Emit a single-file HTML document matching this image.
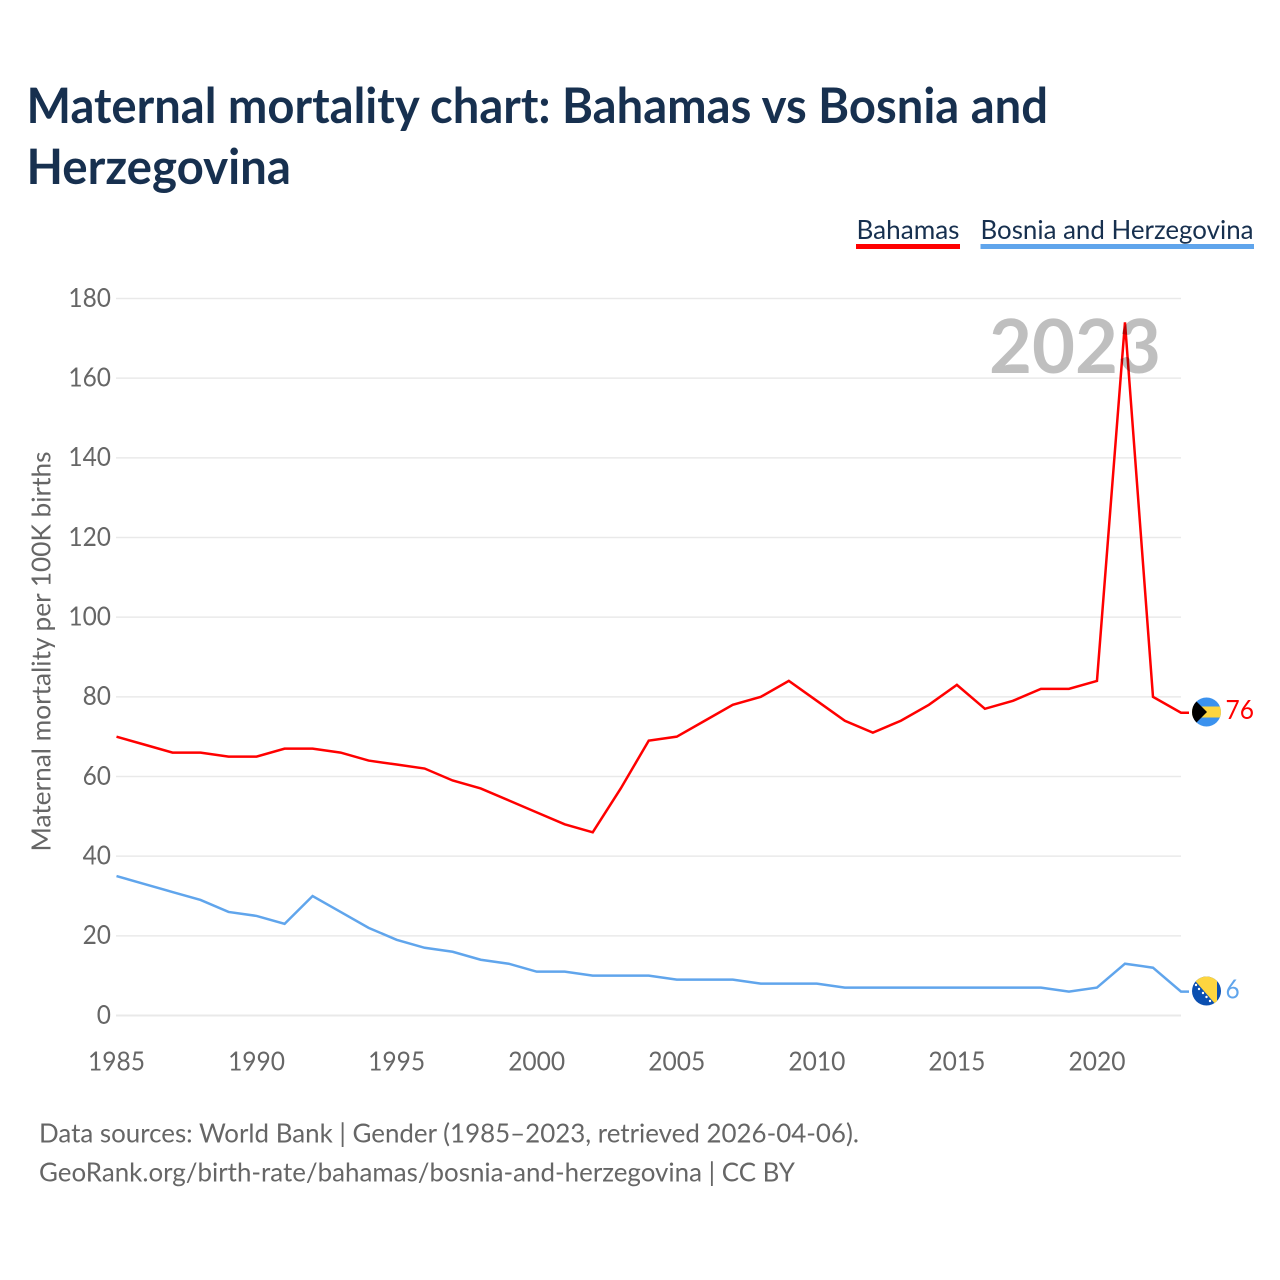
<!DOCTYPE html>
<html lang="en">
<head>
<meta charset="utf-8">
<title>Maternal mortality chart: Bahamas vs Bosnia and Herzegovina</title>
<style>
  html, body { margin: 0; padding: 0; background: #fff; }
  svg { display: block; font-family: "Lato", "Carlito", "Liberation Sans", sans-serif; }
</style>
</head>
<body>
<svg id="chart" xmlns="http://www.w3.org/2000/svg" width="1280" height="1280" viewBox="0 0 1280 1280">
  <defs>
    <clipPath id="clip-bs"><circle cx="1206.5" cy="712" r="14.5"/></clipPath>
    <clipPath id="clip-ba"><circle cx="1206.5" cy="991" r="14.5"/></clipPath>
  </defs>
  <rect width="1280" height="1280" fill="#ffffff"/>
  <text x="26.5" y="123" font-size="49" font-weight="700" fill="#17304f" textLength="1021.5" lengthAdjust="spacingAndGlyphs">Maternal mortality chart: Bahamas vs Bosnia and</text>
  <text x="26.5" y="184" font-size="49" font-weight="700" fill="#17304f" textLength="264.5" lengthAdjust="spacingAndGlyphs">Herzegovina</text>

  <g>
    <text x="856.5" y="239" font-size="26.5" fill="#17304f" textLength="103" lengthAdjust="spacingAndGlyphs">Bahamas</text>
    <rect x="856" y="244" width="104" height="5" fill="#ff0000"/>
  </g>
  <g>
    <text x="980.5" y="239" font-size="26.5" fill="#17304f" textLength="273" lengthAdjust="spacingAndGlyphs">Bosnia and Herzegovina</text>
    <rect x="980.5" y="244" width="273.5" height="5" fill="#60a5ec"/>
  </g>

  <g id="grid"></g>
  <g id="yticks"></g>
  <g id="xticks"></g>
  <text transform="translate(50.5,651.5) rotate(-90)" text-anchor="middle" font-size="26" fill="#666666" textLength="400" lengthAdjust="spacingAndGlyphs">Maternal mortality per 100K births</text>

  <g id="series"></g>

  <text x="989" y="373" font-size="75" font-weight="700" fill="rgba(0,0,0,0.25)" textLength="172" lengthAdjust="spacingAndGlyphs">2023</text>

  <g clip-path="url(#clip-bs)">
    <rect x="1190" y="696" width="34" height="32" fill="#3b92ee"/>
    <rect x="1190" y="706.5" width="34" height="11" fill="#fdd53f"/>
    <polygon points="1190,695 1207,712 1190,729" fill="#000000"/>
  </g>
  <g clip-path="url(#clip-ba)">
    <rect x="1190" y="975" width="34" height="32" fill="#0b4fb0"/>
    <polygon points="1190,975 1217,975 1217,1006" fill="#fdd53f"/>
    <g fill="#ffffff">
      <circle cx="1196" cy="985" r="1.2"/>
      <circle cx="1199" cy="989" r="1.2"/>
      <circle cx="1203" cy="993" r="1.2"/>
      <circle cx="1206.5" cy="997" r="1.2"/>
      <circle cx="1210" cy="1001" r="1.2"/>
    </g>
  </g>
  <text id="label-bs" x="1225.5" y="719" font-size="26.5" fill="#ff0000" textLength="28.5" lengthAdjust="spacingAndGlyphs"></text>
  <text id="label-ba" x="1225.5" y="998.5" font-size="26.5" fill="#60a5ec" textLength="14.2" lengthAdjust="spacingAndGlyphs"></text>

  <text x="39" y="1142.5" font-size="26.5" fill="#666666" textLength="820" lengthAdjust="spacingAndGlyphs">Data sources: World Bank | Gender (1985–2023, retrieved 2026-04-06).</text>
  <text x="39" y="1181.5" font-size="26.5" fill="#666666" textLength="756" lengthAdjust="spacingAndGlyphs">GeoRank.org/birth-rate/bahamas/bosnia-and-herzegovina | CC BY</text>
</svg>
<script>
const years = [1985,1986,1987,1988,1989,1990,1991,1992,1993,1994,1995,1996,1997,1998,1999,2000,2001,2002,2003,2004,2005,2006,2007,2008,2009,2010,2011,2012,2013,2014,2015,2016,2017,2018,2019,2020,2021,2022,2023];
const bahamas = [70,68,66,66,65,65,67,67,66,64,63,62,59,57,54,51,48,46,57,69,70,74,78,80,84,79,74,71,74,78,83,77,79,82,82,84,174,80,76];
const bosnia = [35,33,31,29,26,25,23,30,26,22,19,17,16,14,13,11,11,10,10,10,9,9,9,8,8,8,7,7,7,7,7,7,7,7,6,7,13,12,6];
const yTickValues = [0,20,40,60,80,100,120,140,160,180];
const xTickValues = [1985,1990,1995,2000,2005,2010,2015,2020];

const NS = 'http://www.w3.org/2000/svg';
function xScale(year) { return 116.5 + (year - 1985) * (1181 - 116.5) / (2023 - 1985); }
function yScale(value) { return 1015.5 - value * (1015.5 - 298.5) / 180; }

const gridGroup = document.getElementById('grid');
const yTickGroup = document.getElementById('yticks');
const xTickGroup = document.getElementById('xticks');
const seriesGroup = document.getElementById('series');

yTickValues.forEach(function (v) {
  const line = document.createElementNS(NS, 'line');
  
  
  line.setAttribute('x1', 116);
  line.setAttribute('x2', 1181);
  line.setAttribute('y1', yScale(v));
  line.setAttribute('y2', yScale(v));
  line.setAttribute('stroke', '#e9e9e9');
  line.setAttribute('stroke-width', v === 0 ? 2 : 1.5);
  gridGroup.appendChild(line);

  const label = document.createElementNS(NS, 'text');
  
  
  label.setAttribute('x', 111);
  label.setAttribute('y', yScale(v) + 8.3);
  label.setAttribute('text-anchor', 'end');
  label.setAttribute('font-size', 26);
  label.setAttribute('fill', '#666666');
  label.setAttribute('textLength', String(v).length * 14.2);
  label.setAttribute('lengthAdjust', 'spacingAndGlyphs');
  label.textContent = String(v);
  yTickGroup.appendChild(label);
});

xTickValues.forEach(function (yr) {
  const label = document.createElementNS(NS, 'text');
  
  
  label.setAttribute('x', xScale(yr));
  label.setAttribute('y', 1070.5);
  label.setAttribute('text-anchor', 'middle');
  label.setAttribute('font-size', 26);
  label.setAttribute('fill', '#666666');
  label.setAttribute('textLength', 57);
  label.setAttribute('lengthAdjust', 'spacingAndGlyphs');
  label.textContent = String(yr);
  xTickGroup.appendChild(label);
});

function pointsFor(values) {
  const pts = values.map(function (v, i) { return xScale(years[i]).toFixed(2) + ',' + yScale(v).toFixed(2); });
  // short flat connector from the last data point toward the flag
  pts.push((xScale(years[years.length - 1]) + 8).toFixed(2) + ',' + yScale(values[values.length - 1]).toFixed(2));
  return pts.join(' ');
}

const lineBosnia = document.createElementNS(NS, 'polyline');


lineBosnia.setAttribute('points', pointsFor(bosnia));
lineBosnia.setAttribute('fill', 'none');
lineBosnia.setAttribute('stroke', '#60a5ec');
lineBosnia.setAttribute('stroke-width', 2.5);
seriesGroup.appendChild(lineBosnia);

const lineBahamas = document.createElementNS(NS, 'polyline');


lineBahamas.setAttribute('points', pointsFor(bahamas));
lineBahamas.setAttribute('fill', 'none');
lineBahamas.setAttribute('stroke', '#ff0000');
lineBahamas.setAttribute('stroke-width', 2.5);
seriesGroup.appendChild(lineBahamas);

document.getElementById('label-bs').textContent = String(bahamas[bahamas.length - 1]);
document.getElementById('label-ba').textContent = String(bosnia[bosnia.length - 1]);
</script>
</body>
</html>
